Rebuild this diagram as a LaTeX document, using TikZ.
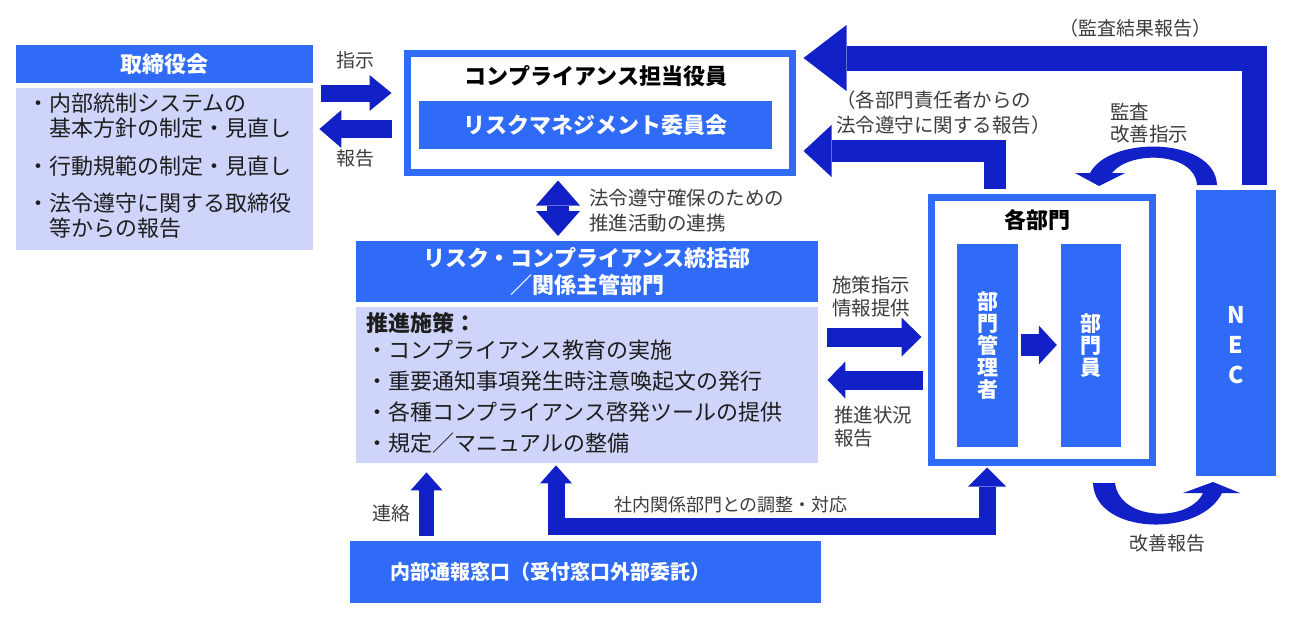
\documentclass[tikz,border=0pt]{standalone}
\usepackage{fontspec}
\setmainfont{Noto Sans CJK JP}
\usetikzlibrary{arrows.meta}
\definecolor{bblue}{HTML}{2F6BF7}
\definecolor{arr}{HTML}{1220C8}
\definecolor{lav}{HTML}{CED4FA}
\definecolor{lbl}{HTML}{3C3C3C}
\definecolor{btx}{HTML}{1E1E1E}
\begin{document}
\begin{tikzpicture}[x=1pt,y=-1pt,
  hdr/.style={fill=bblue, text=white, font=\bfseries\fontsize{22}{27}\selectfont, inner sep=0pt, align=center},
  lavbox/.style={fill=lav, inner sep=0pt},
  frame/.style={draw=bblue, line width=7pt, inner sep=0pt},
  btxt/.style={text=btx, font=\fontsize{22}{25}\selectfont, inner sep=0pt, align=left},
  ttl/.style={text=black, font=\bfseries\fontsize{22}{26}\selectfont, inner sep=0pt},
  lbl/.style={text=lbl, font=\fontsize{19}{24}\selectfont, inner sep=0pt, align=left},
  fat/.style={draw=arr, line width=#1, line join=miter}]
\useasboundingbox (0,0) rectangle (1295,619);

% ---- board
\node[hdr, minimum width=297pt, minimum height=38pt, anchor=north west] (boardh) at (16,45) {取締役会};
\node[lavbox, minimum width=297pt, minimum height=162pt, anchor=north west] (boardb) at (16,88) {};
\node[btxt, anchor=west] (b1) at (27,115.5) {・内部統制システムの\\\hspace*{1em}基本方針の制定・見直し};
\node[btxt, anchor=west] (b2) at (27,166) {・行動規範の制定・見直し};
\node[btxt, anchor=west] (b3) at (27,215.5) {・法令遵守に関する取締役\\\hspace*{1em}等からの報告};

% ---- compliance officer
\node[frame, minimum width=385pt, minimum height=119pt, anchor=north west] (officer) at (403.5,49.5) {};
\node[ttl] (offt) at (596,76) {コンプライアンス担当役員};
\node[hdr, minimum width=353pt, minimum height=48pt] (rmc) at (595.5,125) {リスクマネジメント委員会};

% ---- departments
\node[frame, minimum width=221pt, minimum height=265pt, anchor=north west] (dept) at (927.5,193.5) {};
\node[ttl] (deptt) at (1037,220) {各部門};
\node[hdr, font=\bfseries\fontsize{21}{22}\selectfont, minimum width=61pt, minimum height=203pt] (mgr) at (987.5,345.5) {部\\門\\管\\理\\者};
\node[hdr, font=\bfseries\fontsize{21}{22}\selectfont, minimum width=60pt, minimum height=203pt] (staff) at (1091,345.5) {部\\門\\員};

% ---- NEC
\node[hdr, minimum width=80pt, minimum height=286pt] (nec) at (1236,333) {};
\node[text=white, font=\bfseries\fontsize{23}{30}\selectfont, align=center, inner sep=0pt] (nect) at (1236,345) {N\\E\\C};

% ---- risk compliance dept
\node[hdr, minimum width=462pt, minimum height=61pt, anchor=north west] (riskh) at (356,241) {リスク・コンプライアンス統括部\\／関係主管部門};
\node[lavbox, minimum width=462pt, minimum height=156pt, anchor=north west] (riskb) at (356,307) {};
\node[btxt, font=\bfseries\fontsize{22}{25}\selectfont, anchor=west] (r0) at (366,323) {推進施策：};
\node[btxt, anchor=west] (r1) at (366,350) {・コンプライアンス教育の実施};
\node[btxt, anchor=west] (r2) at (366,381) {・重要通知事項発生時注意喚起文の発行};
\node[btxt, anchor=west] (r3) at (366,412) {・各種コンプライアンス啓発ツールの提供};
\node[btxt, anchor=west] (r4) at (366,443) {・規定／マニュアルの整備};

% ---- hotline
\node[hdr, minimum width=471pt, minimum height=62pt, anchor=north west] (hot) at (350,541) {};
\node[text=white, font=\bfseries\fontsize{20}{24}\selectfont, inner sep=0pt] (hott) at (550,572) {内部通報窓口（受付窓口外部委託）};

% ---- arrows
\draw[fat=17pt, shorten <=8pt, shorten >=12pt, -{Triangle[width=36pt,length=22pt,line width=0pt]}]
  (boardb.east |- 0,93) -- (officer.west |- 0,93);
\draw[fat=18pt, shorten <=12pt, shorten >=6pt, -{Triangle[width=38pt,length=22pt,line width=0pt]}]
  (officer.west |- 0,129) -- (boardb.east |- 0,129);
\draw[fat=25pt, shorten <=5pt, shorten >=8pt, -{Triangle[width=66pt,length=43pt,line width=0pt]}]
  ([xshift=18.5pt]nec.north) |- (officer.east |- 0,58);
\draw[fat=22pt, shorten <=5pt, shorten >=8pt, -{Triangle[width=52pt,length=28pt,line width=0pt]}]
  ([xshift=-47pt]dept.north) |- (officer.east |- 0,151);
\draw[fat=22pt, shorten <=5pt, shorten >=5pt, {Triangle[width=44pt,length=25pt,line width=0pt]}-{Triangle[width=44pt,length=25pt,line width=0pt]}]
  (officer.south -| 558,0) -- (riskh.north -| 558,0);
\draw[fat=19pt, shorten <=9pt, shorten >=6pt, -{Triangle[width=39pt,length=20pt,line width=0pt]}]
  (riskb.east |- 0,337) -- (dept.west |- 0,337);
\draw[fat=19pt, shorten <=5pt, shorten >=9pt, -{Triangle[width=37pt,length=18pt,line width=0pt]}]
  (dept.west |- 0,380) -- (riskb.east |- 0,380);
\draw[fat=22pt, shorten <=3pt, shorten >=4pt, -{Triangle[width=39pt,length=18pt,line width=0pt]}]
  (mgr.east |- 0,345) -- (staff.west |- 0,345);
\draw[fat=15pt, shorten <=5pt, shorten >=9pt, -{Triangle[width=32pt,length=18pt,line width=0pt]}]
  (hot.north -| 426.5,0) -- (riskb.south -| 426.5,0);
\draw[fat=17pt, shorten <=2pt, shorten >=2pt, {Triangle[width=32pt,length=18pt,line width=0pt]}-{Triangle[width=38pt,length=19pt,line width=0pt]}]
  (riskb.south -| 556,0) -- (556,526) -| (dept.south -| 987,0);

% curved arrows
\fill[arr] (1217,185) .. controls (1215,137) and (1110,135) .. (1090,173) -- (1075,173) -- (1099,186)
  -- (1125,173) -- (1112,173) .. controls (1130,150) and (1195,152) .. (1197,185) -- cycle;
\fill[arr] (1093,483) .. controls (1095,535) and (1200,538) .. (1222,493) -- (1240,493) -- (1213,482)
  -- (1183,493) -- (1203,493) .. controls (1190,522) and (1120,522) .. (1115,483) -- cycle;

% ---- labels
\node[lbl] (l1) at (355,60) {指示};
\node[lbl] (l2) at (355,158) {報告};
\node[lbl] (l3) at (1135,28) {（監査結果報告）};
\node[lbl, anchor=west, font=\fontsize{19.5}{25}\selectfont] (l4) at (836,112.5) {（各部門責任者からの\\法令遵守に関する報告）};
\node[lbl, anchor=west, font=\fontsize{19.5}{22}\selectfont] (l5) at (1110,123) {監査\\改善指示};
\node[lbl, anchor=west, font=\fontsize{19.5}{25}\selectfont] (l6) at (589,210.5) {法令遵守確保のための\\推進活動の連携};
\node[lbl, anchor=west, font=\fontsize{19.5}{23}\selectfont] (l7) at (832,296.5) {施策指示\\情報提供};
\node[lbl, anchor=west, font=\fontsize{19.5}{23}\selectfont] (l8) at (834,426.5) {推進状況\\報告};
\node[lbl] (l9) at (391,513) {連絡};
\node[lbl, font=\fontsize{18}{22}\selectfont] (l10) at (731,505) {社内関係部門との調整・対応};
\node[lbl] (l11) at (1167,543) {改善報告};
\end{tikzpicture}
\end{document}
